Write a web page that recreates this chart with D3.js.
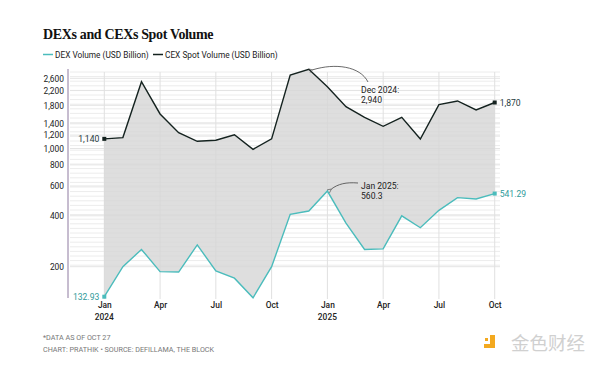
<!DOCTYPE html>
<html>
<head>
<meta charset="utf-8">
<script src="https://cdn.jsdelivr.net/npm/d3@7"></script>
<style>
  body { margin: 0; background: #fff; }
  svg { display: block; }
  text { font-family: Roboto, "Liberation Sans", sans-serif; }
</style>
</head>
<body>
<div id="chart"></div>
<script>
// monthly data, Jan 2024 .. Oct 2025
var months = ["2024-01","2024-02","2024-03","2024-04","2024-05","2024-06","2024-07","2024-08","2024-09","2024-10","2024-11","2024-12",
              "2025-01","2025-02","2025-03","2025-04","2025-05","2025-06","2025-07","2025-08","2025-09","2025-10"];
var dexVolume = [132.93, 200, 253, 187, 186, 269, 189, 171, 131, 200, 408, 427,
                 560.3, 362, 253, 255, 400, 340, 431, 512, 503, 541.29];
var cexVolume = [1140, 1160, 2480, 1600, 1240, 1103, 1118, 1206, 989, 1140, 2720, 2940,
                 2320, 1767, 1529, 1352, 1529, 1138, 1816, 1910, 1690, 1870];
var yTicks = [200, 400, 600, 800, 1000, 1200, 1400, 1800, 2200, 2600];
var xTickLabels = ["Jan", "Apr", "Jul", "Oct", "Jan", "Apr", "Jul", "Oct"];
var xTickIdx = [0, 3, 6, 9, 12, 15, 18, 21];
var yearLabels = [[0, "2024"], [12, "2025"]];

var width = 600, height = 367;
var teal = "#4bbcbc", dark = "#14221f";

var svg = d3.select("#chart").append("svg")
  .attr("width", width).attr("height", height);

var x = d3.scalePoint().domain(months).range([104.3, 494.7]);
var y = d3.scaleLog().domain([200, 2600]).range([266.7, 78.3]);

// title + legend
svg.append("text").attr("x", 43).attr("y", 39)
  .style("font-family", "'Liberation Serif', serif").style("font-weight", "bold")
  .style("font-size", "14px").style("letter-spacing", "-0.35px").attr("fill", "#111")
  .text("DEXs and CEXs Spot Volume");

var legend = [["DEX Volume (USD Billion)", teal, 43], ["CEX Spot Volume (USD Billion)", dark, 153]];
legend.forEach(function (l) {
  svg.append("line").attr("x1", l[2]).attr("x2", l[2] + 10).attr("y1", 54.5).attr("y2", 54.5)
    .attr("stroke", l[1]).attr("stroke-width", 1.5);
  svg.append("text").attr("x", l[2] + 12).attr("y", 57.5)
    .style("font-size", "8.3px").attr("fill", "#222").text(l[0]);
});

// grid: fine background stripes plus quarter lines
var grid = svg.append("g");
d3.range(72, 266, 4.6).forEach(function (py) {
  grid.append("line").attr("x1", 70).attr("x2", 500).attr("y1", py).attr("y2", py)
    .attr("stroke", "#ececec").attr("stroke-width", 1);
});
yTicks.forEach(function (v) {
  grid.append("line").attr("x1", 70).attr("x2", 500).attr("y1", y(v)).attr("y2", y(v))
    .attr("stroke", "#e4e4e4").attr("stroke-width", 1);
});
xTickIdx.forEach(function (i) {
  grid.append("line").attr("x1", x(months[i])).attr("x2", x(months[i]))
    .attr("y1", 72).attr("y2", 299).attr("stroke", "#e0e0e0").attr("stroke-width", 1);
});

// y axis
var yAxis = d3.axisLeft(y).tickValues(yTicks).tickFormat(d3.format(",")).tickSize(0).tickPadding(4);
var ya = svg.append("g").attr("transform", "translate(68,0)").call(yAxis);
ya.select(".domain").remove();
ya.selectAll("text").style("font-size", "8.4px").attr("fill", "#222")
  .style("font-family", "Roboto, sans-serif");
svg.append("line").attr("x1", 68).attr("x2", 68).attr("y1", 69).attr("y2", 298)
  .attr("stroke", "#8e7aa0").attr("stroke-width", 1);

// x axis labels
var xAxis = d3.axisBottom(x).tickValues(xTickIdx.map(function (i) { return months[i]; }))
  .tickFormat(function (d, i) { return xTickLabels[i]; }).tickSize(0).tickPadding(0);
var xa = svg.append("g").attr("transform", "translate(0,302.5)").call(xAxis);
xa.select(".domain").remove();
xa.selectAll("text").style("font-size", "8.4px").style("font-weight", 500).attr("fill", "#222")
  .style("font-family", "Roboto, sans-serif");
yearLabels.forEach(function (yl) {
  svg.append("text").attr("x", x(months[yl[0]])).attr("y", 320).attr("text-anchor", "middle")
    .style("font-size", "8.4px").style("font-weight", 500).attr("fill", "#222").text(yl[1]);
});

// area between the series
var rows = months.map(function (m, i) { return { m: m, dex: dexVolume[i], cex: cexVolume[i] }; });
svg.append("path").datum(rows)
  .attr("d", d3.area().x(function (d) { return x(d.m); })
    .y0(function (d) { return y(d.dex); }).y1(function (d) { return y(d.cex); }))
  .attr("fill", "#d6d6d6").attr("fill-opacity", 0.8);

// lines
[["cex", dark], ["dex", teal]].forEach(function (s) {
  svg.append("path").datum(rows)
    .attr("d", d3.line().x(function (d) { return x(d.m); }).y(function (d) { return y(d[s[0]]); }))
    .attr("fill", "none").attr("stroke", s[1]).attr("stroke-width", 1.4);
  [0, rows.length - 1].forEach(function (i) {
    svg.append("rect").attr("x", x(rows[i].m) - 2).attr("y", y(rows[i][s[0]]) - 2)
      .attr("width", 4).attr("height", 4).attr("fill", s[1]);
  });
});

// end labels
var fmtC = d3.format(",");
function endLabel(xx, yy, txt, col, anchor) {
  svg.append("text").attr("x", xx).attr("y", yy + 3).attr("text-anchor", anchor)
    .style("font-size", "8.6px").attr("fill", col).text(txt);
}
endLabel(x(months[0]) - 5, y(cexVolume[0]), fmtC(cexVolume[0]), "#1f3a3d", "end");
endLabel(x(months[0]) - 5, y(dexVolume[0]), dexVolume[0].toFixed(2), "#2f9a9a", "end");
endLabel(x(months[21]) + 5, y(cexVolume[21]), fmtC(cexVolume[21]), "#1f3a3d", "start");
endLabel(x(months[21]) + 5, y(dexVolume[21]), dexVolume[21].toFixed(2), "#2f9a9a", "start");

// annotations
svg.append("defs").append("marker").attr("id", "arr").attr("viewBox", "0 0 10 10")
  .attr("refX", 1).attr("refY", 5).attr("markerWidth", 6).attr("markerHeight", 6)
  .attr("orient", "auto-start-reverse")
  .append("path").attr("d", "M9,1 L1,5 L9,9").attr("fill", "none").attr("stroke", "#444").attr("stroke-width", 1.2);

function annot(lines, tx, ty, path) {
  svg.append("path").attr("d", path).attr("fill", "none").attr("stroke", "#444")
    .attr("stroke-width", 0.8).attr("marker-end", "url(#arr)");
  lines.forEach(function (t, k) {
    svg.append("text").attr("x", tx).attr("y", ty + k * 10).style("font-size", "8.6px")
      .attr("fill", "#222").text(t);
  });
}
var dx = x(months[11]), dy = y(cexVolume[11]);
annot(["Dec 2024:", fmtC(cexVolume[11])], 361, 93,
  "M368,82 C360,66 335,63 " + (dx + 4) + "," + (dy + 0.5));
var jx = x(months[12]), jy = y(dexVolume[12]);
annot(["Jan 2025:", String(dexVolume[12])], 361, 189,
  "M358,183 C346,182 338,184 " + (jx + 4) + "," + (jy - 2));

// footer
svg.append("text").attr("x", 43).attr("y", 340).style("font-size", "7.2px").attr("fill", "#777")
  .text("*DATA AS OF OCT 27");
svg.append("text").attr("x", 43).attr("y", 351.5).style("font-size", "7.2px").attr("fill", "#777")
  .text("CHART: PRATHIK \u2022 SOURCE: DEFILLAMA, THE BLOCK");

// watermark
svg.append("path").attr("d", "M490,335 h5 v13 h-11 v-4 h6 z").attr("fill", "#f3a91f");
svg.append("rect").attr("x", 485).attr("y", 338).attr("width", 3).attr("height", 3).attr("fill", "#f3a91f");
svg.append("text").attr("x", 511).attr("y", 350).style("font-family", "'Noto Sans CJK SC', sans-serif")
  .style("font-size", "18.5px").attr("fill", "#d0d0d0").text("金色财经");
</script>
</body>
</html>
